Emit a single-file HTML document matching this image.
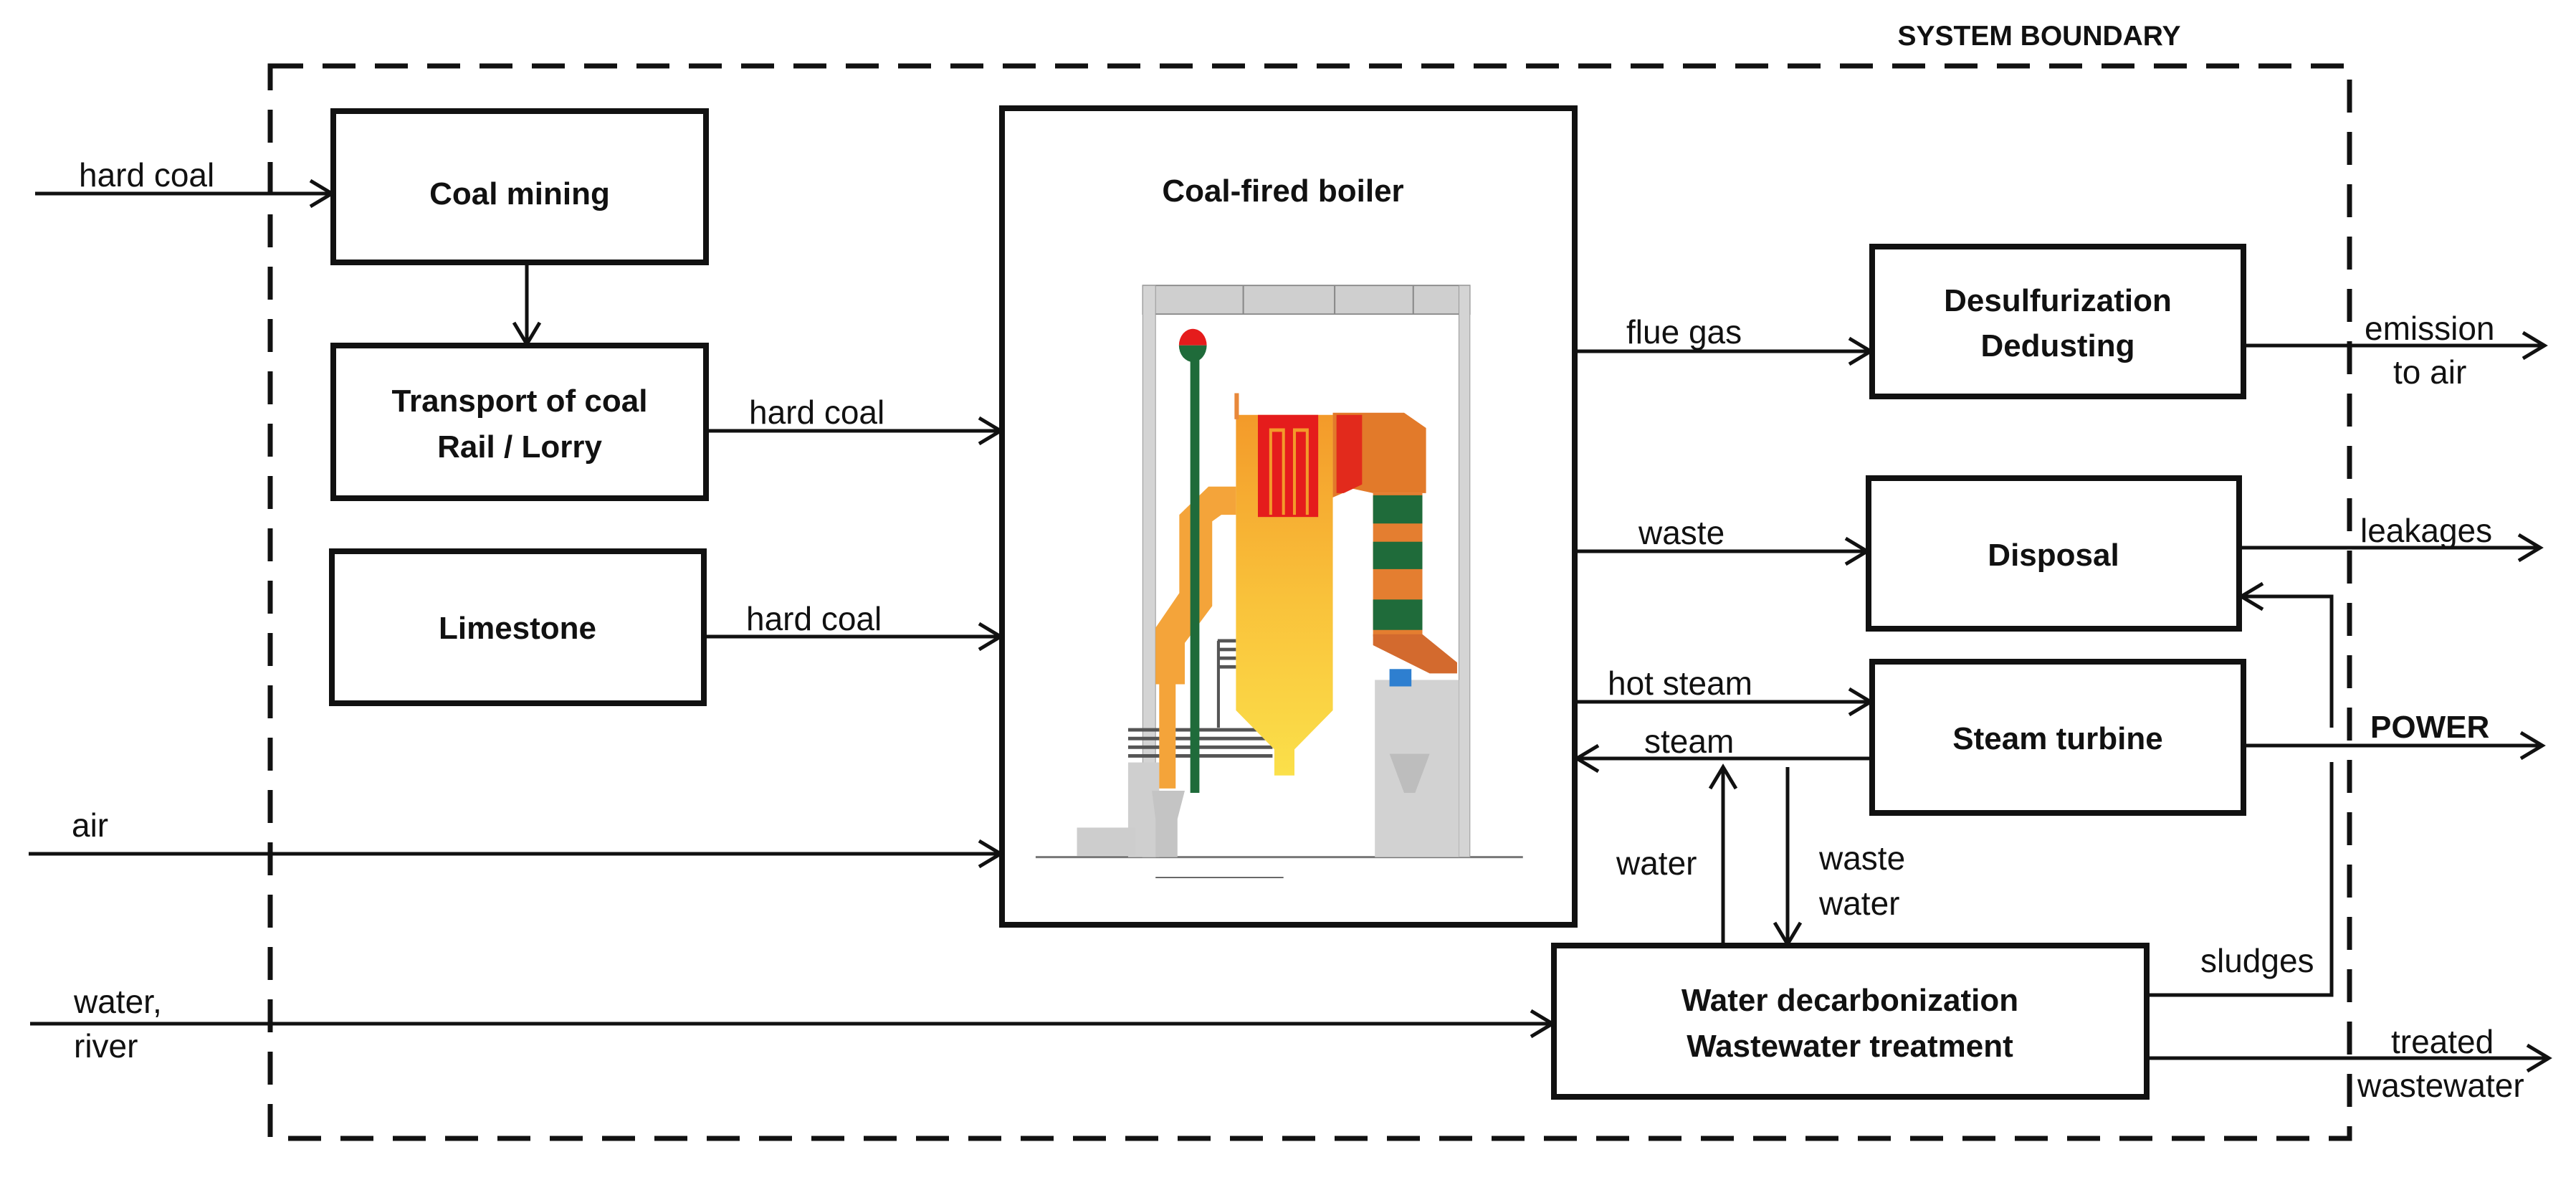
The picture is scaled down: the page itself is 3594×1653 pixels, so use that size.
<!DOCTYPE html>
<html><head><meta charset="utf-8"><style>
html,body{margin:0;padding:0;background:#fff;}
svg{display:block;}
text{font-family:"Liberation Sans",Arial,sans-serif;fill:#111;}
.l{font-size:46px;}
.b{font-size:44px;font-weight:bold;}
</style></head><body>
<svg width="3594" height="1653" viewBox="0 0 3594 1653" xmlns="http://www.w3.org/2000/svg">
<defs>
<linearGradient id="fg" x1="0" y1="0" x2="0" y2="1">
<stop offset="0" stop-color="#f39a2a"/><stop offset="0.5" stop-color="#f9c13a"/><stop offset="1" stop-color="#fbe04a"/>
</linearGradient>
</defs>
<rect width="3594" height="1653" fill="#fff"/>

<rect x="377" y="92" width="2901" height="1496" fill="none" stroke="#111" stroke-width="7" stroke-dasharray="46,27"/>
<text class="b" x="2845" y="63" text-anchor="middle" style="font-size:39px">SYSTEM BOUNDARY</text>

<g fill="none" stroke="#111" stroke-width="8">
<rect x="465" y="155" width="520" height="211"/>
<rect x="465" y="482" width="520" height="213"/>
<rect x="463" y="769" width="519" height="212"/>
<rect x="1398" y="151" width="799" height="1139"/>
<rect x="2612" y="344" width="518" height="209"/>
<rect x="2607" y="667" width="517" height="210"/>
<rect x="2612" y="923" width="518" height="211"/>
<rect x="2168" y="1319" width="827" height="211"/>
</g>

<g transform="translate(1398,300) scale(0.510,0.606)">
<line x1="92" y1="1478" x2="1425" y2="1478" stroke="#777" stroke-width="5"/>
<rect x="385" y="162" width="895" height="66" fill="#cfcfcf" stroke="#888" stroke-width="3"/>
<rect x="385" y="162" width="35" height="1316" fill="#d4d4d4" stroke="#999" stroke-width="2"/>
<rect x="1250" y="162" width="30" height="1316" fill="#d4d4d4" stroke="#999" stroke-width="2"/>
<line x1="660" y1="162" x2="660" y2="228" stroke="#888" stroke-width="4"/>
<line x1="910" y1="162" x2="910" y2="228" stroke="#888" stroke-width="4"/>
<line x1="1125" y1="162" x2="1125" y2="228" stroke="#888" stroke-width="4"/>
<rect x="345" y="1260" width="85" height="218" fill="#cfcfcf"/>
<polygon points="410,1325 500,1325 480,1390 480,1478 420,1478 420,1390" fill="#c4c4c4"/>
<rect x="205" y="1410" width="160" height="65" fill="#cdcdcd"/>
<g stroke="#555" stroke-width="8"><line x1="345" y1="1185" x2="740" y2="1185"/><line x1="345" y1="1205" x2="740" y2="1205"/><line x1="345" y1="1225" x2="740" y2="1225"/><line x1="345" y1="1245" x2="740" y2="1245"/>
<line x1="590" y1="980" x2="640" y2="980"/><line x1="590" y1="1000" x2="640" y2="1000"/><line x1="590" y1="1020" x2="640" y2="1020"/><line x1="590" y1="1040" x2="640" y2="1040"/><line x1="592" y1="980" x2="592" y2="1180"/></g>
<polygon points="640,625 565,625 485,690 485,870 420,950 420,1080 430,1080 430,1320 475,1320 475,1080 500,1080 500,985 575,900 575,705 600,690 640,690" fill="#f4a43a"/>
<polygon points="640,460 905,460 905,1140 800,1230 800,1290 745,1290 745,1230 640,1140" fill="url(#fg)"/>
<rect x="636" y="410" width="12" height="60" fill="#e8883a"/>
<rect x="700" y="460" width="165" height="235" fill="#e51c1c"/>
<g stroke="#f39a2a" stroke-width="8" fill="none"><path d="M735,690 V495 H770 V690"/><path d="M800,690 V495 H835 V690"/></g>
<polygon points="905,455 1100,455 1160,490 1160,640 1015,640 960,630 905,650" fill="#e27a2a"/>
<polygon points="915,460 985,460 985,620 935,640 915,640" fill="#e22a1c"/>
<rect x="1015" y="640" width="135" height="330" fill="#e47e30"/>
<rect x="1015" y="645" width="135" height="65" fill="#1f6b3a"/>
<rect x="1015" y="752" width="135" height="63" fill="#1f6b3a"/>
<rect x="1015" y="885" width="135" height="70" fill="#1f6b3a"/>
<polygon points="1015,965 1150,965 1245,1030 1245,1055 1170,1055 1015,990" fill="#d36a2e"/>
<rect x="1020" y="1070" width="230" height="408" fill="#d2d2d2"/>
<rect x="1060" y="1045" width="60" height="40" fill="#2e7fd0"/>
<polygon points="1060,1240 1170,1240 1130,1330 1100,1330" fill="#bdbdbd"/>
<rect x="515" y="330" width="25" height="1000" fill="#1f6b3a"/>
<path d="M484,300 A38,38 0 0 1 560,300 Z" fill="#e51c1c"/>
<path d="M484,300 A38,38 0 0 0 560,300 Z" fill="#1f6b3a"/>
<line x1="420" y1="1525" x2="770" y2="1525" stroke="#555" stroke-width="3"/>
</g>

<text class="b" x="1790" y="281" text-anchor="middle">Coal-fired boiler</text>
<text class="b" x="725" y="285" text-anchor="middle">Coal mining</text>
<text class="b" x="725" y="574" text-anchor="middle">Transport of coal</text>
<text class="b" x="725" y="638" text-anchor="middle">Rail / Lorry</text>
<text class="b" x="722" y="891" text-anchor="middle">Limestone</text>
<text class="b" x="2871" y="434" text-anchor="middle">Desulfurization</text>
<text class="b" x="2871" y="497" text-anchor="middle">Dedusting</text>
<text class="b" x="2865" y="789" text-anchor="middle">Disposal</text>
<text class="b" x="2871" y="1045" text-anchor="middle">Steam turbine</text>
<text class="b" x="2581" y="1410" text-anchor="middle">Water decarbonization</text>
<text class="b" x="2581" y="1474" text-anchor="middle">Wastewater treatment</text>

<g stroke="#111" stroke-width="5" fill="none">
<line x1="49" y1="270" x2="463" y2="270"/><polyline points="433,252 463,270 433,288"/>
<line x1="735" y1="366" x2="735" y2="480"/><polyline points="717,450 735,480 753,450"/>
<line x1="985" y1="601" x2="1396" y2="601"/><polyline points="1366,583 1396,601 1366,619"/>
<line x1="982" y1="888" x2="1396" y2="888"/><polyline points="1366,870 1396,888 1366,906"/>
<line x1="40" y1="1191" x2="1396" y2="1191"/><polyline points="1366,1173 1396,1191 1366,1209"/>
<line x1="42" y1="1428" x2="2166" y2="1428"/><polyline points="2136,1410 2166,1428 2136,1446"/>
<line x1="2197" y1="490" x2="2610" y2="490"/><polyline points="2580,472 2610,490 2580,508"/>
<line x1="3130" y1="482" x2="3550" y2="482"/><polyline points="3520,464 3550,482 3520,500"/>
<line x1="2197" y1="769" x2="2605" y2="769"/><polyline points="2575,751 2605,769 2575,787"/>
<line x1="3124" y1="764" x2="3544" y2="764"/><polyline points="3514,746 3544,764 3514,782"/>
<line x1="2197" y1="979" x2="2610" y2="979"/><polyline points="2580,961 2610,979 2580,997"/>
<line x1="2612" y1="1058" x2="2200" y2="1058"/><polyline points="2230,1040 2200,1058 2230,1076"/>
<line x1="2404" y1="1319" x2="2404" y2="1070"/><polyline points="2386,1100 2404,1070 2422,1100"/>
<line x1="2494" y1="1070" x2="2494" y2="1317"/><polyline points="2476,1287 2494,1317 2512,1287"/>
<line x1="3130" y1="1040" x2="3547" y2="1040"/><polyline points="3517,1022 3547,1040 3517,1058"/>
<polyline points="2995,1388 3253,1388 3253,1063"/>
<polyline points="3253,1015 3253,832 3127,832"/><polyline points="3157,814 3127,832 3157,850"/>
<line x1="2995" y1="1476" x2="3556" y2="1476"/><polyline points="3526,1458 3556,1476 3526,1494"/>
</g>

<text class="l" x="110" y="260">hard coal</text>
<text class="l" x="1045" y="591">hard coal</text>
<text class="l" x="1041" y="879">hard coal</text>
<text class="l" x="100" y="1167">air</text>
<text class="l" x="103" y="1413">water,</text>
<text class="l" x="103" y="1475">river</text>
<text class="l" x="2269" y="479">flue gas</text>
<text class="l" x="3299" y="474">emission</text>
<text class="l" x="3339" y="535">to air</text>
<text class="l" x="2286" y="759">waste</text>
<text class="l" x="3293" y="756">leakages</text>
<text class="l" x="2243" y="969">hot steam</text>
<text class="l" x="2294" y="1050">steam</text>
<text class="l" x="2255" y="1220">water</text>
<text class="l" x="2538" y="1213">waste</text>
<text class="l" x="2538" y="1276">water</text>
<text class="b" x="3307" y="1029">POWER</text>
<text class="l" x="3070" y="1356">sludges</text>
<text class="l" x="3336" y="1469">treated</text>
<text class="l" x="3289" y="1530">wastewater</text>
</svg>
</body></html>
